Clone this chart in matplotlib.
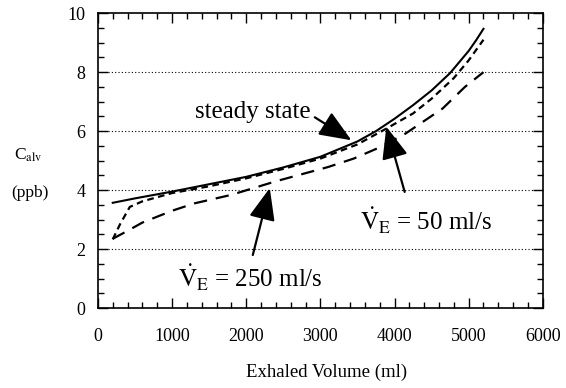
import numpy as np
import matplotlib.pyplot as plt
from matplotlib.ticker import MultipleLocator

plt.rcParams["font.family"] = ["Liberation Serif", "DejaVu Serif"]
plt.rcParams["mathtext.fontset"] = "stix"

# Curvas (volumen exhalado en ml, concentracion en ppb)
vol_ss = [200, 500, 1000, 1500, 2000, 2500, 3000, 3500, 3750, 4000, 4250, 4500, 4750, 5000, 5100, 5200]
c_ss = [3.57, 3.72, 3.95, 4.2, 4.45, 4.77, 5.13, 5.65, 6.0, 6.42, 6.88, 7.38, 7.97, 8.72, 9.08, 9.47]

vol_50 = [200, 300, 430, 600, 1000, 1500, 2000, 2500, 3000, 3500, 3900, 4250, 4500, 4800, 5000, 5200]
c_50 = [2.33, 2.85, 3.43, 3.62, 3.9, 4.13, 4.4, 4.72, 5.07, 5.55, 6.1, 6.6, 7.1, 7.8, 8.4, 9.1]

vol_250 = [200, 400, 600, 1000, 1300, 1800, 2400, 3100, 3450, 3800, 4150, 4650, 4950, 5200]
c_250 = [2.35, 2.62, 2.9, 3.3, 3.55, 3.84, 4.3, 4.78, 5.07, 5.45, 5.92, 6.77, 7.5, 8.0]

fig = plt.figure(figsize=(5.66, 3.88), dpi=100)
ax = fig.add_axes([0.173, 0.206, 0.786, 0.760])

for y in [2, 4, 6, 8]:
    ax.axhline(y, color="black", lw=0.8, ls=(0, (1, 2)), zorder=1)

ax.plot(vol_ss, c_ss, color="black", lw=1.5, zorder=3)
ax.plot(vol_50, c_50, color="black", lw=1.6, ls=(0, (3, 2)), zorder=3)
ax.plot(vol_250, c_250, color="black", lw=1.6, ls=(0, (6, 4)), zorder=3)

ax.set_xlim(0, 6000)
ax.set_ylim(0, 10)
ax.xaxis.set_major_locator(MultipleLocator(1000))
ax.xaxis.set_minor_locator(MultipleLocator(200))
ax.yaxis.set_major_locator(MultipleLocator(2))
ax.yaxis.set_minor_locator(MultipleLocator(0.5))
ax.tick_params(which="both", direction="in", top=True, right=True, width=1)
ax.tick_params(which="major", length=7, labelsize=13)
ax.tick_params(axis="x", which="major", pad=14)
ax.tick_params(axis="y", which="major", pad=9)
ax.tick_params(which="minor", length=4)
for s in ax.spines.values():
    s.set_linewidth(1.2)

flecha = dict(arrowstyle="-|>,head_length=1.1,head_width=0.45", color="black",
              lw=1.6, mutation_scale=18, shrinkA=0, shrinkB=0)
ax.annotate("", xy=(3419, 5.69), xytext=(2925, 6.47), arrowprops=flecha, zorder=4)
ax.annotate("", xy=(3890, 6.15), xytext=(4137, 3.94), arrowprops=flecha, zorder=4)
ax.annotate("", xy=(2318, 4.07), xytext=(2089, 1.8), arrowprops=flecha, zorder=4)

ax.text(1307, 6.44, "steady state", fontsize=18, va="baseline")
ax.text(3531, 2.64, r"$\dot{\mathrm{V}}_{\mathrm{E}}$ = 50 ml/s", fontsize=18, va="baseline")
ax.text(1078, 0.68, r"$\dot{\mathrm{V}}_{\mathrm{E}}$ = 250 ml/s", fontsize=18, va="baseline")

fig.text(0.577, 0.028, "Exhaled Volume (ml)", fontsize=13.5, ha="center", va="baseline")
fig.text(0.05, 0.60, r"C$_{\mathrm{alv}}$", fontsize=12.5, ha="center", va="center")
fig.text(0.053, 0.503, "(ppb)", fontsize=12.5, ha="center", va="center")

fig.savefig("out.png", dpi=100)
